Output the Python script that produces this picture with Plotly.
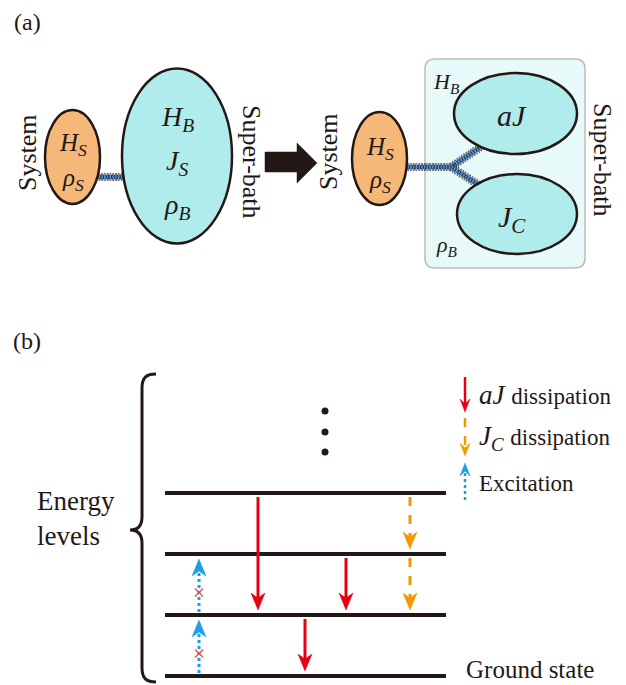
import numpy as np
import plotly.graph_objects as go

W, H = 626, 685
PAGE_MARGIN = 8   # browser default body margin; compensated so coordinates equal page pixels
BLACK = "#231815"
ORANGE_FILL = "#f6b878"
CYAN_FILL = "#b0ecec"
BOX_FILL = "#e8f9f9"
BOX_LINE = "#bdbdbd"
RED = "#e60012"
AMBER = "#f39800"
BLUE = "#1d9fe8"
SPRING_BLUE = "#4a97f0"
XRED = "#f04848"
FONT = "Liberation Serif"

# ---- panel (b) data ----
level_y = [676, 615, 554, 493]          # energy levels (0 = ground)
level_x = [165, 446]
aj_x, aj_from, aj_to = [258, 346, 305], [3, 2, 1], [1, 1, 0]
jc_x, jc_from, jc_to = [410, 410], [3, 2], [2, 1]
ex_x, ex_from, ex_to = [199, 199], [0, 1], [1, 2]
dots_x, dots_y = [325, 325, 325], [411, 432, 452]
legend_labels = ['<i>aJ</i> <span style="font-size:23px">dissipation</span>',
                 '<i>J</i><sub><i>C</i></sub> <span style="font-size:23px">dissipation</span>',
                 'Excitation']
legend_y = [395, 438, 483]

fig = go.Figure()
shapes = []
ann = []


def text(x, y, s, size, angle=0, xanchor="center", align="center", color=BLACK):
    ann.append(dict(x=x, y=y, text=s, showarrow=False, textangle=angle,
                    xanchor=xanchor, yanchor="middle", align=align,
                    font=dict(family=FONT, size=size, color=color)))


def ellipse(cx, cy, rx, ry, fill):
    shapes.append(dict(type="circle", x0=cx - rx, x1=cx + rx, y0=cy - ry, y1=cy + ry,
                       fillcolor=fill, line=dict(color=BLACK, width=2.5), layer="above"))


def spring(x0, y0, x1, y1, period=5.5, amp=4.0):
    L = np.hypot(x1 - x0, y1 - y0)
    ux, uy = (x1 - x0) / L, (y1 - y0) / L
    px, py = -uy, ux
    t = np.linspace(0, L, int(L * 6))
    bx, by = x0 + ux * t, y0 + uy * t
    fig.add_trace(go.Scatter(x=bx, y=by, mode="lines", line=dict(color=SPRING_BLUE, width=4),
                             hoverinfo="skip"))
    for s in (1, -1):
        off = s * amp * np.sin(2 * np.pi * t / period)
        fig.add_trace(go.Scatter(x=bx + px * off, y=by + py * off, mode="lines",
                                 line=dict(color="#222222", width=0.7), hoverinfo="skip"))


def head(x, ytip, d, color, w=14, L=17, notch=5):
    shapes.append(dict(type="path",
                       path=f"M {x},{ytip} L {x - w / 2},{ytip - d * L} L {x},{ytip - d * (L - notch)} "
                            f"L {x + w / 2},{ytip - d * L} Z",
                       fillcolor=color, line=dict(color=color, width=0.5), layer="above"))


def arrow(x, ystart, ytip, color, dash="solid", w=14, L=17, lw=3):
    d = 1 if ytip > ystart else -1
    shapes.append(dict(type="line", x0=x, x1=x, y0=ystart, y1=ytip - d * (L - 6),
                       line=dict(color=color, width=lw, dash=dash), layer="above"))
    head(x, ytip, d, color, w, L)


# ================= panel (a) =================
text(27, 22, "(a)", 24)

# left: system + super-bath
spring(98, 177, 126, 177)
ellipse(72.5, 157, 27.5, 47, ORANGE_FILL)
ellipse(177, 156, 55, 87.5, CYAN_FILL)
text(27, 153, "System", 26, angle=-90)
text(73, 144, "<i>H</i><sub><i>S</i></sub>", 25)
text(73, 179, "<i>ρ</i><sub><i>S</i></sub>", 25)
text(177, 118, "<i>H</i><sub><i>B</i></sub>", 28)
text(177, 162, "<i>J</i><sub><i>S</i></sub>", 28)
text(177, 206, "<i>ρ</i><sub><i>B</i></sub>", 28)
text(252, 162, "Super-bath", 26, angle=90)

# big arrow
shapes.append(dict(type="path",
                   path="M 265,152 L 297,152 L 297,143 L 317,163 L 297,183 L 297,172 L 265,172 Z",
                   fillcolor=BLACK, line=dict(color=BLACK, width=0.5)))

# right: box
bx0, bx1, by0, by1, r = 425, 585, 59, 268, 10
shapes.append(dict(type="path",
                   path=f"M {bx0 + r},{by0} L {bx1 - r},{by0} Q {bx1},{by0} {bx1},{by0 + r} "
                        f"L {bx1},{by1 - r} Q {bx1},{by1} {bx1 - r},{by1} L {bx0 + r},{by1} "
                        f"Q {bx0},{by1} {bx0},{by1 - r} L {bx0},{by0 + r} Q {bx0},{by0} {bx0 + r},{by0} Z",
                   fillcolor=BOX_FILL, line=dict(color=BOX_LINE, width=1.5), layer="below"))

spring(404, 167, 451, 167)
spring(451, 167, 482, 146)
spring(451, 167, 482, 187)
ellipse(379.5, 158.5, 27.5, 46.5, ORANGE_FILL)
ellipse(515.5, 113.5, 61.5, 40.5, CYAN_FILL)
ellipse(517, 214, 60, 40, CYAN_FILL)
text(328, 152, "System", 26, angle=-90)
text(380, 148, "<i>H</i><sub><i>S</i></sub>", 25)
text(380, 181, "<i>ρ</i><sub><i>S</i></sub>", 25)
text(512, 115, "<i>aJ</i>", 30)
text(512, 219, "<i>J</i><sub><i>C</i></sub>", 30)
text(446, 83, "<i>H</i><sub><i>B</i></sub>", 22)
text(447, 246, "<i>ρ</i><sub><i>B</i></sub>", 22)
text(603, 160, "Super-bath", 26, angle=90)

# ================= panel (b) =================
text(27, 341, "(b)", 24)

# brace
shapes.append(dict(type="path",
                   path="M 156,374 C 147,374 142,377 142,388 L 142,517 C 142,526 138,530 130,530 "
                        "C 138,530 142,534 142,543 L 142,668 C 142,679 147,682 156,682",
                   line=dict(color=BLACK, width=3)))
text(35, 518, "Energy<br>levels", 27, xanchor="left", align="left")

# levels
for y in level_y:
    shapes.append(dict(type="line", x0=level_x[0], x1=level_x[1], y0=y, y1=y,
                       line=dict(color=BLACK, width=4)))

# dots
fig.add_trace(go.Scatter(x=dots_x, y=dots_y, mode="markers",
                         marker=dict(color=BLACK, size=7), hoverinfo="skip"))

# transitions
for x, a, b in zip(aj_x, aj_from, aj_to):
    arrow(x, level_y[a] + 4, level_y[b] - 5, RED)
for x, a, b in zip(jc_x, jc_from, jc_to):
    arrow(x, level_y[a] + 4, level_y[b] - 5, AMBER, dash="dash")
for x, a, b in zip(ex_x, ex_from, ex_to):
    arrow(x, level_y[a] - 3, level_y[b] + 5, BLUE, dash="dot")
    ym = level_y[a] - 0.37 * (level_y[a] - level_y[b])
    for sx in (1, -1):
        shapes.append(dict(type="line", x0=x - 4, x1=x + 4, y0=ym - 4 * sx, y1=ym + 4 * sx,
                           line=dict(color=XRED, width=1.3), layer="above"))

# legend
arrow(465, 377, 412, RED, w=10, L=13, lw=2.5)
arrow(465, 418, 456, AMBER, dash="dash", w=10, L=13, lw=2.5)
arrow(465, 500, 463, BLUE, dash="dot", w=10, L=13, lw=2.5)
sizes = [27, 27, 23]
for s, y, fs in zip(legend_labels, legend_y, sizes):
    text(477, y, s, fs, xanchor="left", align="left")

text(464, 669, "Ground state", 25, xanchor="left", align="left")

fig.update_layout(
    width=W - PAGE_MARGIN, height=H - PAGE_MARGIN, margin=dict(l=0, r=0, t=0, b=0),
    paper_bgcolor="white", plot_bgcolor="white", showlegend=False,
    xaxis=dict(range=[PAGE_MARGIN, W], visible=False, fixedrange=True),
    yaxis=dict(range=[H, PAGE_MARGIN], visible=False, fixedrange=True),
    shapes=shapes, annotations=ann,
)
fig.write_html("out.html")
